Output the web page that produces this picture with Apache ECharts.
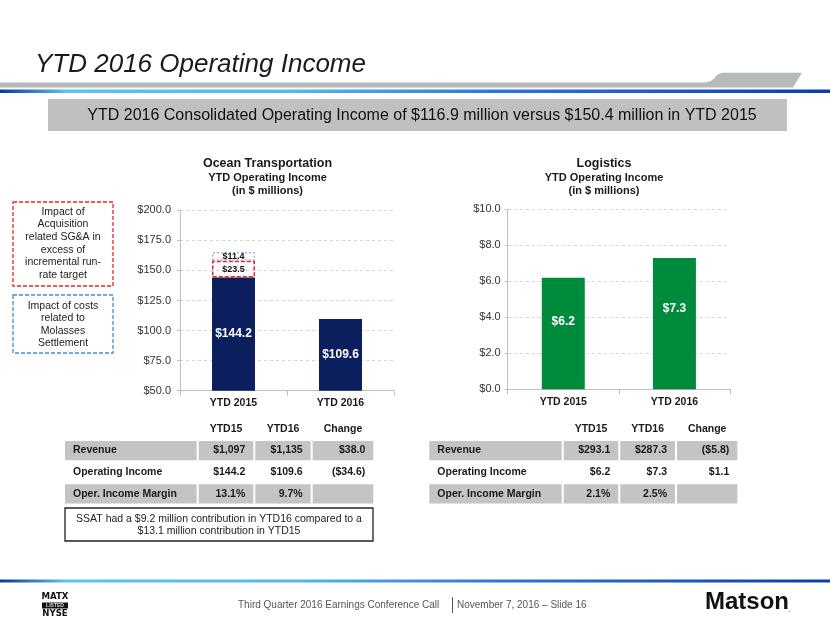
<!DOCTYPE html>
<html><head><meta charset="utf-8">
<script src="https://cdn.jsdelivr.net/npm/echarts@6/dist/echarts.min.js"></script>
<style>html,body{margin:0;padding:0;background:#fff}#c{width:830px;height:623px}</style>
</head><body><div id="c"></div>
<script>
// ---------- data ----------
const categories = ['YTD 2015', 'YTD 2016'];
const oceanIncome = [144.2, 109.6];
const oceanAcqImpact = [23.5, null];        // label value
const oceanAcqBox = [13.8, null];           // box height as drawn in the picture
const oceanMolassesImpact = [11.4, null];   // label value
const oceanMolassesBox = [7.3, null];       // box height as drawn in the picture
const logisticsIncome = [6.2, 7.3];
const oceanAxis = { min: 50, max: 200, interval: 25 };
const logisticsAxis = { min: 0, max: 10, interval: 2 };

const tableHeaders = ['YTD15', 'YTD16', 'Change'];
const tableRowLabels = ['Revenue', 'Operating Income', 'Oper. Income Margin'];
const oceanYTD15 = ['$1,097', '$144.2', '13.1%'];
const oceanYTD16 = ['$1,135', '$109.6', '9.7%'];
const oceanChange = ['$38.0', '($34.6)', ''];
const logisticsYTD15 = ['$293.1', '$6.2', '2.1%'];
const logisticsYTD16 = ['$287.3', '$7.3', '2.5%'];
const logisticsChange = ['($5.8)', '$1.1', ''];

const acqNoteLines = ['Impact of', 'Acquisition', 'related SG&A in', 'excess of', 'incremental run-', 'rate target'];
const molassesNoteLines = ['Impact of costs', 'related to', 'Molasses', 'Settlement'];
const ssatNoteLines = ['SSAT had a $9.2 million contribution in YTD16 compared to a', '$13.1 million contribution in YTD15'];

// ---------- styling ----------
const FF = '"Liberation Sans", Arial, sans-serif';
const NAVY = '#0b1f5e';
const GREEN = '#008a3c';
const chart = echarts.init(document.getElementById('c'), null, { renderer: 'canvas' });

function txt(x, y, text, size, opts) {
  opts = opts || {};
  return {
    type: 'text', x: x, y: y, silent: true, z: 10,
    style: {
      text: text, fontFamily: opts.family || FF, fontSize: size,
      fontWeight: opts.weight || 'normal', fontStyle: opts.style || 'normal',
      fill: opts.color || '#1a1a1a', align: opts.align || 'left', verticalAlign: 'middle'
    }
  };
}
function rect(x, y, w, h, style) {
  return { type: 'rect', silent: true, shape: { x: x, y: y, width: w, height: h }, style: style, z: 5 };
}

const g = [];
// header
g.push(txt(35, 65, 'YTD 2016 Operating Income', 26, { style: 'italic', color: '#1a1a1a' }));
g.push({
  type: 'polygon', silent: true,
  shape: { points: [[0, 82.5], [704, 82.5], [710, 81.5], [714, 78.5], [717, 75], [721, 72.7], [802, 72.7], [793, 87.5], [0, 87.5]] },
  style: { fill: '#b6babe' }
});
const blueGrad = () => new echarts.graphic.LinearGradient(0, 0, 1, 0, [
  { offset: 0, color: '#0a3896' }, { offset: 0.08, color: '#5cc3f4' }, { offset: 0.35, color: '#55b8ef' },
  { offset: 0.6, color: '#2a78d6' }, { offset: 1, color: '#0c3ea8' }
]);
g.push(rect(0, 89.5, 830, 3.5, { fill: blueGrad() }));
g.push(rect(48, 99, 739, 32, { fill: '#c0c0c0' }));
g.push(txt(422, 116, 'YTD 2016 Consolidated Operating Income of $116.9 million versus $150.4 million in YTD 2015', 16, { align: 'center', color: '#111' }));

// chart titles
[[267.5, 'Ocean Transportation'], [604, 'Logistics']].forEach(function (t) {
  g.push(txt(t[0], 164, t[1], 12.5, { weight: 'bold', align: 'center' }));
  g.push(txt(t[0], 177.5, 'YTD Operating Income', 11, { weight: 'bold', align: 'center' }));
  g.push(txt(t[0], 191, '(in $ millions)', 11, { weight: 'bold', align: 'center' }));
});

// annotation boxes
g.push(rect(13, 202, 100, 84, { fill: 'none', stroke: '#e8262a', lineWidth: 1.3, lineDash: [4, 2] }));
acqNoteLines.forEach(function (l, i) { g.push(txt(63, 212 + i * 12.6, l, 10.5, { align: 'center', color: '#222' })); });
g.push(rect(13, 295, 100, 58, { fill: 'none', stroke: '#3b8fd9', lineWidth: 1.3, lineDash: [4, 2] }));
molassesNoteLines.forEach(function (l, i) { g.push(txt(63, 306 + i * 12.5, l, 10.5, { align: 'center', color: '#222' })); });

// tables
function table(cols, c1, c2, c3) {
  const rowsY = [441, 462.6, 484.3];
  const rowH = 19.2;
  const colsVals = [c1, c2, c3];
  tableHeaders.forEach(function (h, j) {
    const c = cols[j + 1];
    g.push(txt((c[0] + c[1]) / 2, 429, h, 10.5, { weight: 'bold', align: 'center' }));
  });
  tableRowLabels.forEach(function (lab, i) {
    const y = rowsY[i];
    if (i !== 1) {
      cols.forEach(function (c) { g.push(rect(c[0], y, c[1] - c[0], rowH, { fill: '#c4c4c4' })); });
    }
    g.push(txt(cols[0][0] + 8, y + rowH / 2, lab, 10.5, { weight: 'bold' }));
    colsVals.forEach(function (vals, j) {
      const c = cols[j + 1];
      if (vals[i]) g.push(txt(c[1] - 8, y + rowH / 2, vals[i], 10.5, { weight: 'bold', align: 'right' }));
    });
  });
}
table([[65, 196.7], [198.7, 253.3], [255.3, 310.7], [312.7, 373.3]], oceanYTD15, oceanYTD16, oceanChange);
table([[429.3, 561.7], [563.7, 618.3], [620.3, 675], [677, 737.3]], logisticsYTD15, logisticsYTD16, logisticsChange);

g.push(rect(65, 508, 308, 33, { fill: '#fff', stroke: '#222', lineWidth: 1.3 }));
ssatNoteLines.forEach(function (l, i) { g.push(txt(219, 519 + i * 12.5, l, 10.5, { align: 'center', color: '#222' })); });

// footer
g.push(rect(0, 579.5, 830, 3, { fill: blueGrad() }));
g.push(txt(55, 597, 'MATX', 9.5, { weight: 'bold', align: 'center', family: '"DejaVu Sans Condensed", "DejaVu Sans", sans-serif', color: '#111' }));
g.push(rect(42, 602.5, 26, 6, { fill: '#111' }));
g.push(txt(55, 605.7, 'LISTED', 5, { weight: 'bold', align: 'center', color: '#ddd' }));
g.push(txt(55, 614, 'NYSE', 9.5, { weight: 'bold', align: 'center', family: '"DejaVu Sans Condensed", "DejaVu Sans", sans-serif', color: '#111' }));
g.push(txt(238, 605, 'Third Quarter 2016 Earnings Conference Call', 10, { color: '#555' }));
g.push({ type: 'line', silent: true, shape: { x1: 452.5, y1: 597, x2: 452.5, y2: 613 }, style: { stroke: '#555', lineWidth: 1 } });
g.push(txt(457, 605, 'November 7, 2016 \u2013 Slide 16', 10, { color: '#555' }));
g.push(txt(705, 602, 'Matson', 24, { weight: 'bold', color: '#111' }));
g.push(txt(788, 610, '.', 8, { color: '#111' }));

const yLabel = function (v) { return '$' + v.toFixed(1); };
function xAx(gi) {
  return {
    type: 'category', gridIndex: gi, data: categories,
    axisLine: { lineStyle: { color: '#bfbfbf', width: 1 } },
    axisTick: { show: true, length: 5, lineStyle: { color: '#bfbfbf' } },
    axisLabel: { fontFamily: FF, fontWeight: 'bold', fontSize: 10.5, color: '#1a1a1a', margin: 7 }
  };
}
function yAx(gi, ax, margin) {
  return {
    type: 'value', gridIndex: gi, min: ax.min, max: ax.max, interval: ax.interval,
    axisLine: { show: true, lineStyle: { color: '#bfbfbf' } },
    axisTick: { show: true, length: 3, lineStyle: { color: '#bfbfbf' } },
    splitLine: { lineStyle: { color: '#d4d4d4', type: [3, 3] } },
    axisLabel: { formatter: yLabel, fontFamily: FF, fontSize: 11, color: '#333', margin: margin }
  };
}

chart.setOption({
  animation: false,
  grid: [
    { left: 180, top: 210.3, width: 214, height: 180.4 },
    { left: 507.7, top: 209.3, width: 222.3, height: 180 }
  ],
  xAxis: [xAx(0), xAx(1)],
  yAxis: [yAx(0, oceanAxis, 9), yAx(1, logisticsAxis, 7)],
  graphic: { elements: g },
  series: [
    {
      type: 'bar', xAxisIndex: 0, yAxisIndex: 0, stack: 'ocean', data: oceanIncome, barWidth: 43,
      itemStyle: { color: NAVY },
      label: { show: true, position: 'inside', formatter: function (p) { return '$' + p.value.toFixed(1); },
        color: '#fff', fontFamily: FF, fontWeight: 'bold', fontSize: 12 }
    },
    {
      type: 'bar', xAxisIndex: 0, yAxisIndex: 0, stack: 'ocean', data: oceanAcqBox, barWidth: 43,
      itemStyle: { color: 'rgba(255,255,255,0)', borderColor: '#e8262a', borderWidth: 1.5, borderType: [4, 2] },
      label: { show: true, position: 'inside', formatter: function (p) { return oceanAcqImpact[p.dataIndex] == null ? '' : '$' + oceanAcqImpact[p.dataIndex].toFixed(1); },
        color: '#111', fontFamily: FF, fontWeight: 'bold', fontSize: 9 }
    },
    {
      type: 'bar', xAxisIndex: 0, yAxisIndex: 0, stack: 'ocean', data: oceanMolassesBox, barWidth: 43,
      itemStyle: { color: 'rgba(255,255,255,0)', borderColor: '#8fb9e8', borderWidth: 1.5, borderType: [2, 2] },
      label: { show: true, position: 'inside', formatter: function (p) { return oceanMolassesImpact[p.dataIndex] == null ? '' : '$' + oceanMolassesImpact[p.dataIndex].toFixed(1); },
        color: '#111', fontFamily: FF, fontWeight: 'bold', fontSize: 9 }
    },
    {
      type: 'bar', xAxisIndex: 1, yAxisIndex: 1, data: logisticsIncome, barWidth: 43,
      itemStyle: { color: GREEN },
      label: { show: true, position: ['50%', '39%'], align: 'center', verticalAlign: 'middle',
        formatter: function (p) { return '$' + p.value.toFixed(1); },
        color: '#fff', fontFamily: FF, fontWeight: 'bold', fontSize: 12 }
    }
  ]
});
</script>
</body></html>
